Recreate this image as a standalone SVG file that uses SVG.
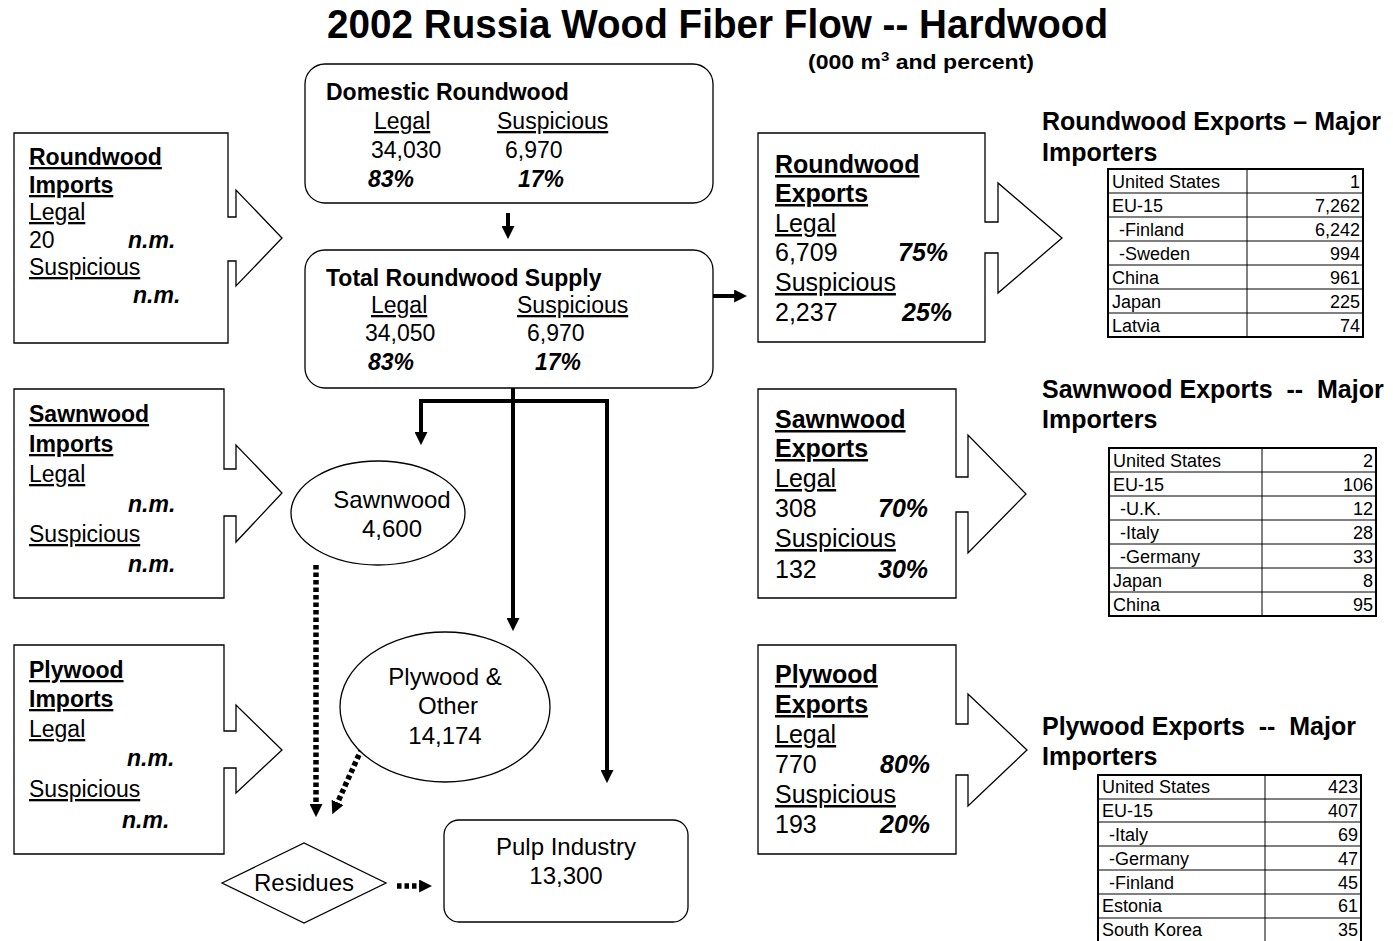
<svg xmlns="http://www.w3.org/2000/svg" width="1393" height="941" viewBox="0 0 1393 941">
<style>
text{font-family:"Liberation Sans",Arial,sans-serif;fill:#000;white-space:pre}
.b{font-weight:bold}
.bi{font-weight:bold;font-style:italic}
.u{text-decoration:underline}
.f23{font-size:23px}
.f24{font-size:24px}
.f25{font-size:25px}
.t{font-size:18px}
.shape{fill:#fff;stroke:#000;stroke-width:1.3}
.thick{fill:none;stroke:#000;stroke-width:4}
.dot{fill:none;stroke:#000;stroke-width:5.5;stroke-dasharray:4.5 3}
.tb{fill:none;stroke:#000;stroke-width:2}
.tl{fill:none;stroke:#000;stroke-width:1}
.mid{text-anchor:middle}
.end{text-anchor:end}
</style>
<defs>
<marker id="ah" viewBox="0 0 10 10" refX="3" refY="5" markerWidth="13" markerHeight="13" markerUnits="userSpaceOnUse" orient="auto">
<path d="M0,0 L10,5 L0,10 Z" fill="#000"/>
</marker>
</defs>
<rect width="1393" height="941" fill="#fff"/>

<g id="title">
<text class="b" x="327" y="38" font-size="40" textLength="781" lengthAdjust="spacingAndGlyphs">2002 Russia Wood Fiber Flow -- Hardwood</text>
<text class="b" x="808" y="69" font-size="20" textLength="226" lengthAdjust="spacingAndGlyphs">(000 m<tspan font-size="13" dy="-8">3</tspan><tspan dy="8"> and percent)</tspan></text>
</g>

<g id="connectors">
<line class="thick" x1="508" y1="213" x2="508" y2="230" marker-end="url(#ah)"/>
<line class="thick" x1="713" y1="296" x2="738" y2="296" marker-end="url(#ah)"/>
<polyline class="thick" points="419,401 607,401"/>
<line class="thick" x1="421" y1="399" x2="421" y2="436" marker-end="url(#ah)"/>
<line class="thick" x1="607" y1="399" x2="607" y2="774" marker-end="url(#ah)"/>
<line class="thick" x1="513" y1="388" x2="513" y2="622" marker-end="url(#ah)"/>
<line class="dot" x1="316" y1="565" x2="316" y2="808" marker-end="url(#ah)"/>
<line class="dot" x1="362" y1="748" x2="336" y2="806" marker-end="url(#ah)"/>
<line class="dot" x1="397" y1="886" x2="423" y2="886" marker-end="url(#ah)"/>
</g>

<g id="domestic">
<rect class="shape" x="305" y="64" width="408" height="139" rx="20"/>
<text class="b f23" x="326" y="100">Domestic Roundwood</text>
<text class="f23 u" x="374" y="129">Legal</text>
<text class="f23 u" x="497" y="129">Suspicious</text>
<text class="f23" x="371" y="158">34,030</text>
<text class="f23" x="505" y="158">6,970</text>
<text class="bi f23" x="368" y="187">83%</text>
<text class="bi f23" x="518" y="187">17%</text>
</g>

<g id="total">
<rect class="shape" x="305" y="250" width="408" height="138" rx="20"/>
<text class="b f23" x="326" y="286">Total Roundwood Supply</text>
<text class="f23 u" x="371" y="313">Legal</text>
<text class="f23 u" x="517" y="313">Suspicious</text>
<text class="f23" x="365" y="341">34,050</text>
<text class="f23" x="527" y="341">6,970</text>
<text class="bi f23" x="368" y="370">83%</text>
<text class="bi f23" x="535" y="370">17%</text>
</g>

<g id="rw-imports">
<path class="shape" d="M14,133 H228 V217 H236 V190 L282,238 L236,286 V261 H228 V343 H14 Z"/>
<text class="b f23 u" x="29" y="165">Roundwood</text>
<text class="b f23 u" x="29" y="193">Imports</text>
<text class="f23 u" x="29" y="220">Legal</text>
<text class="f23" x="29" y="248">20</text>
<text class="bi f23" x="128" y="248">n.m.</text>
<text class="f23 u" x="29" y="275">Suspicious</text>
<text class="bi f23" x="133" y="303">n.m.</text>
</g>

<g id="sw-imports">
<path class="shape" d="M14,389 H224 V469 H236 V445 L282,493 L236,542 V516 H224 V598 H14 Z"/>
<text class="b f23 u" x="29" y="422">Sawnwood</text>
<text class="b f23 u" x="29" y="452">Imports</text>
<text class="f23 u" x="29" y="482">Legal</text>
<text class="bi f23" x="128" y="512">n.m.</text>
<text class="f23 u" x="29" y="542">Suspicious</text>
<text class="bi f23" x="128" y="572">n.m.</text>
</g>

<g id="ply-imports">
<path class="shape" d="M14,645 H224 V731 H236 V705 L282,750 L236,793 V768 H224 V854 H14 Z"/>
<text class="b f23 u" x="29" y="678">Plywood</text>
<text class="b f23 u" x="29" y="707">Imports</text>
<text class="f23 u" x="29" y="737">Legal</text>
<text class="bi f23" x="127" y="766">n.m.</text>
<text class="f23 u" x="29" y="797">Suspicious</text>
<text class="bi f23" x="122" y="828">n.m.</text>
</g>

<g id="rw-exports">
<path class="shape" d="M758,133 H985 V222 H998 V183 L1062,238 L998,293 V253 H985 V342 H758 Z"/>
<text class="b f25 u" x="775" y="173">Roundwood</text>
<text class="b f25 u" x="775" y="202">Exports</text>
<text class="f25 u" x="775" y="232">Legal</text>
<text class="f25" x="775" y="261">6,709</text>
<text class="bi f25" x="898" y="261">75%</text>
<text class="f25 u" x="775" y="291">Suspicious</text>
<text class="f25" x="775" y="321">2,237</text>
<text class="bi f25" x="902" y="321">25%</text>
</g>

<g id="sw-exports">
<path class="shape" d="M758,389 H956 V477 H968 V435 L1026,494 L968,553 V512 H956 V598 H758 Z"/>
<text class="b f25 u" x="775" y="428">Sawnwood</text>
<text class="b f25 u" x="775" y="457">Exports</text>
<text class="f25 u" x="775" y="487">Legal</text>
<text class="f25" x="775" y="517">308</text>
<text class="bi f25" x="878" y="517">70%</text>
<text class="f25 u" x="775" y="547">Suspicious</text>
<text class="f25" x="775" y="578">132</text>
<text class="bi f25" x="878" y="578">30%</text>
</g>

<g id="ply-exports">
<path class="shape" d="M758,645 H956 V724 H968 V694 L1027,750 L968,806 V775 H956 V854 H758 Z"/>
<text class="b f25 u" x="775" y="683">Plywood</text>
<text class="b f25 u" x="775" y="713">Exports</text>
<text class="f25 u" x="775" y="743">Legal</text>
<text class="f25" x="775" y="773">770</text>
<text class="bi f25" x="880" y="773">80%</text>
<text class="f25 u" x="775" y="803">Suspicious</text>
<text class="f25" x="775" y="833">193</text>
<text class="bi f25" x="880" y="833">20%</text>
</g>

<g id="sawnwood">
<ellipse class="shape" cx="378" cy="513" rx="87" ry="52"/>
<text class="f24 mid" x="392" y="508">Sawnwood</text>
<text class="f24 mid" x="392" y="537">4,600</text>
</g>

<g id="plywood">
<ellipse class="shape" cx="445" cy="707" rx="105" ry="75"/>
<text class="f24 mid" x="445" y="685">Plywood &amp;</text>
<text class="f24 mid" x="448" y="714">Other</text>
<text class="f24 mid" x="445" y="744">14,174</text>
</g>

<g id="residues">
<path class="shape" d="M222,883 L304,843 L386,883 L304,923 Z"/>
<text class="f24 mid" x="304" y="891">Residues</text>
</g>

<g id="pulp">
<rect class="shape" x="444" y="820" width="244" height="102" rx="15"/>
<text class="f24 mid" x="566" y="855">Pulp Industry</text>
<text class="f24 mid" x="566" y="884">13,300</text>
</g>

<g id="rw-table">
<text class="b f25" x="1042" y="130">Roundwood Exports – Major</text>
<text class="b f25" x="1042" y="161">Importers</text>
<path class="tl" d="M1108,193 H1363 M1108,217 H1363 M1108,241 H1363 M1108,265 H1363 M1108,289 H1363 M1108,313 H1363 M1247,169 V337"/>
<rect class="tb" x="1108" y="169" width="255" height="168"/>
<g class="t">
<text x="1112" y="188">United States</text><text class="end" x="1360" y="188">1</text>
<text x="1112" y="212">EU-15</text><text class="end" x="1360" y="212">7,262</text>
<text x="1119" y="236">-Finland</text><text class="end" x="1360" y="236">6,242</text>
<text x="1119" y="260">-Sweden</text><text class="end" x="1360" y="260">994</text>
<text x="1112" y="284">China</text><text class="end" x="1360" y="284">961</text>
<text x="1112" y="308">Japan</text><text class="end" x="1360" y="308">225</text>
<text x="1112" y="332">Latvia</text><text class="end" x="1360" y="332">74</text>
</g>
</g>

<g id="sw-table">
<text class="b f25" x="1042" y="398">Sawnwood Exports  --  Major</text>
<text class="b f25" x="1042" y="428">Importers</text>
<path class="tl" d="M1109,472 H1376 M1109,496 H1376 M1109,520 H1376 M1109,544 H1376 M1109,568 H1376 M1109,592 H1376 M1262,448 V616"/>
<rect class="tb" x="1109" y="448" width="267" height="168"/>
<g class="t">
<text x="1113" y="467">United States</text><text class="end" x="1373" y="467">2</text>
<text x="1113" y="491">EU-15</text><text class="end" x="1373" y="491">106</text>
<text x="1120" y="515">-U.K.</text><text class="end" x="1373" y="515">12</text>
<text x="1120" y="539">-Italy</text><text class="end" x="1373" y="539">28</text>
<text x="1120" y="563">-Germany</text><text class="end" x="1373" y="563">33</text>
<text x="1113" y="587">Japan</text><text class="end" x="1373" y="587">8</text>
<text x="1113" y="611">China</text><text class="end" x="1373" y="611">95</text>
</g>
</g>

<g id="ply-table">
<text class="b f25" x="1042" y="735">Plywood Exports  --  Major</text>
<text class="b f25" x="1042" y="765">Importers</text>
<path class="tl" d="M1098,799 H1361 M1098,822 H1361 M1098,846 H1361 M1098,870 H1361 M1098,894 H1361 M1098,918 H1361 M1265,775 V942"/>
<rect class="tb" x="1098" y="775" width="263" height="168"/>
<g class="t">
<text x="1102" y="793">United States</text><text class="end" x="1358" y="793">423</text>
<text x="1102" y="817">EU-15</text><text class="end" x="1358" y="817">407</text>
<text x="1109" y="841">-Italy</text><text class="end" x="1358" y="841">69</text>
<text x="1109" y="865">-Germany</text><text class="end" x="1358" y="865">47</text>
<text x="1109" y="889">-Finland</text><text class="end" x="1358" y="889">45</text>
<text x="1102" y="912">Estonia</text><text class="end" x="1358" y="912">61</text>
<text x="1102" y="936">South Korea</text><text class="end" x="1358" y="936">35</text>
</g>
</g>
</svg>
